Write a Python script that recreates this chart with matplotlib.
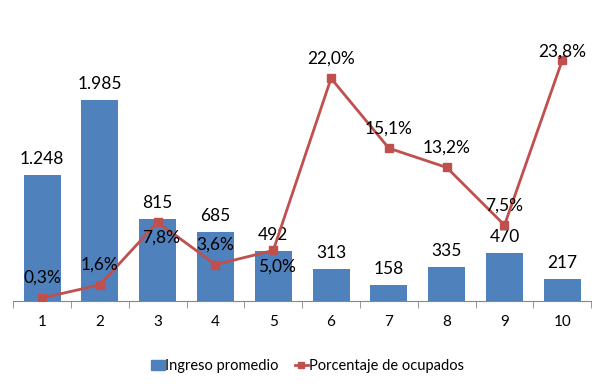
import numpy as np
import matplotlib.pyplot as plt
from matplotlib.lines import Line2D
from matplotlib.patches import Patch

plt.rcParams['font.family'] = ['Lato', 'DejaVu Sans']

categorias = ['1', '2', '3', '4', '5', '6', '7', '8', '9', '10']
ingreso = [1248, 1985, 815, 685, 492, 313, 158, 335, 470, 217]
ingreso_txt = ['1.248', '1.985', '815', '685', '492', '313', '158', '335', '470', '217']
ocupados = [0.3, 1.6, 7.8, 3.6, 5.0, 22.0, 15.1, 13.2, 7.5, 23.8]
# label above (+) or below (-) each point
lado = [1, 1, -1, 1, -1, 1, 1, 1, 1, 1]

azul = '#4F81BD'
rojo = '#C0504D'

fig = plt.figure(figsize=(6.15, 3.84), dpi=100)
ax = fig.add_axes([0.0213, 0.216, 0.94, 0.659])
x = np.arange(len(categorias))

ax.bar(x, ingreso, width=0.64, color=azul, zorder=2)
ax.set_xlim(-0.5, 9.5)
ax.set_ylim(0, 2500)
for xi, v, t in zip(x, ingreso, ingreso_txt):
    ax.annotate(t, (xi, v), xytext=(0, 8), textcoords='offset pixels',
                ha='center', va='bottom', fontsize=12.5)

ax2 = ax.twinx()
ax2.set_ylim(0, 25)
ax2.plot(x, ocupados, color=rojo, lw=2, marker='s', ms=5.5, zorder=3)
for xi, v, s in zip(x, ocupados, lado):
    txt = f'{v:.1f}%'.replace('.', ',')
    if s > 0:
        off = 12 if xi != 9 else 1
        ax2.annotate(txt, (xi, v), xytext=(0, off), textcoords='offset pixels',
                     ha='center', va='bottom', fontsize=12.5)
    else:
        ax2.annotate(txt, (xi, v), xytext=(4, -8), textcoords='offset pixels',
                     ha='center', va='top', fontsize=12.5)

for a in (ax, ax2):
    for sp in ['top', 'left', 'right']:
        a.spines[sp].set_visible(False)
    a.set_yticks([])
ax2.spines['bottom'].set_visible(False)
ax.spines['bottom'].set_color('#868686')

ax.set_xticks(x)
ax.set_xticklabels(categorias, fontsize=11)
ax.tick_params(axis='x', which='major', length=0, pad=10)
ax.set_xticks(np.arange(-0.5, 10, 1), minor=True)
ax.tick_params(axis='x', which='minor', length=5, color='#868686')

handles = [Patch(color=azul, label='Ingreso promedio'),
           Line2D([0], [0], color=rojo, lw=2, marker='s', ms=5, label='Porcentaje de ocupados')]
fig.legend(handles=handles, loc='center', bbox_to_anchor=(0.5, 0.047), ncol=2,
           frameon=False, fontsize=10.5, handlelength=0.9, handletextpad=0.05,
           columnspacing=1.1)

fig.savefig('out.png', dpi=100)
